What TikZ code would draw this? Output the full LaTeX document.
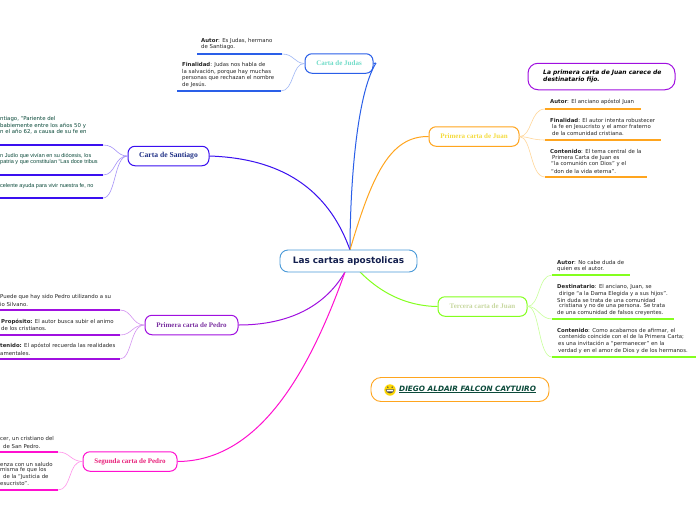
\documentclass[tikz,border=0pt]{standalone}
\usepackage{fontspec}
\setmainfont{DejaVu Sans}
\newfontfamily\srf{Liberation Serif}
\newfontfamily\arl{Liberation Sans}
\newcounter{tl}
\newcommand\tline[3]{\stepcounter{tl}\node[txt] (t\arabic{tl}) at (#1,#2) {#3};}
\definecolor{cjudas}{HTML}{2A5FE8}
\definecolor{csant}{HTML}{3A10F0}
\definecolor{cjuan}{HTML}{FFA51E}
\definecolor{cter}{HTML}{84FF1E}
\definecolor{cpe}{HTML}{A010E0}
\definecolor{cse}{HTML}{FF10D0}
\definecolor{gtext}{HTML}{0B4A3A}
\definecolor{tjudas}{HTML}{70DCC8}
\definecolor{tsant}{HTML}{1E2F85}
\definecolor{tjuan}{HTML}{F5DC40}
\definecolor{tter}{HTML}{C8D8A0}
\definecolor{tpe}{HTML}{7A30A0}
\definecolor{tse}{HTML}{E8207A}
\definecolor{ccen}{HTML}{4A9AD8}
\definecolor{tcen}{HTML}{14204F}
\tikzset{
 txt/.style={anchor=west,inner sep=0pt,font=\fontsize{5.4}{6}\selectfont,text=black!85},
 topic/.style={draw=#1,line width=1pt,rounded corners=7pt,fill=white,inner sep=0pt,minimum height=19.5pt,font=\srf\bfseries\fontsize{7}{8}\selectfont},
 main/.style={draw=#1,line width=1pt},
 sub/.style={draw=#1!45,line width=.6pt},
 under/.style={draw=#1,line width=1.2pt},
}
\begin{document}
\begin{tikzpicture}[x=1pt,y=-1pt]
\useasboundingbox (0,0) rectangle (696,520);
\clip (0,0) rectangle (696,520);
\fill[white] (0,0) rectangle (696,520);
% coordinates
\coordinate (cg) at (360,272);
\coordinate (cp) at (345,272);
\coordinate (cn) at (350,250);
\coordinate (jend) at (376,63);
\coordinate (ja1) at (282,54); \coordinate (ja1l) at (197,54);
\coordinate (ja2) at (281,91); \coordinate (ja2l) at (177,91);
\coordinate (sa1) at (103,145); \coordinate (sa1l) at (0,145);
\coordinate (sa2) at (103,175); \coordinate (sa2l) at (0,175);
\coordinate (sa3) at (103,198); \coordinate (sa3l) at (0,198);
\coordinate (p1) at (120,310); \coordinate (p1l) at (0,310);
\coordinate (p2) at (120,335); \coordinate (p2l) at (0,335);
\coordinate (p3) at (120,359); \coordinate (p3l) at (0,359);
\coordinate (q1) at (58,452); \coordinate (q1l) at (0,452);
\coordinate (q2) at (58,490); \coordinate (q2l) at (0,490);
\coordinate (u1) at (545,109); \coordinate (u1r) at (641,109);
\coordinate (u2) at (545,140); \coordinate (u2r) at (661,140);
\coordinate (u3) at (545,177); \coordinate (u3r) at (647,177);
\coordinate (v1) at (552,275); \coordinate (v1r) at (630,275);
\coordinate (v2) at (552,319); \coordinate (v2r) at (674,319);
\coordinate (v3) at (552,357); \coordinate (v3r) at (696,357);
% topic nodes
\node[topic=cjudas,minimum width=68pt,text=tjudas] (judas) at (339,63.5) {Carta de Judas};
\node[topic=csant,minimum width=81pt,text=tsant,font=\srf\bfseries\fontsize{7.6}{9}\selectfont] (sant) at (168.5,156) {Carta de Santiago};
\node[topic=cjuan,minimum width=90pt,text=tjuan] (juan) at (474,136.5) {Primera carta de Juan};
\node[topic=cter,minimum width=89pt,text=tter] (ter) at (482.5,306.5) {Tercera carta de Juan};
\node[topic=cpe,minimum width=93pt,text=tpe] (pe) at (191.5,325) {Primera carta de Pedro};
\node[topic=cse,minimum width=94pt,text=tse] (se) at (130,461.5) {Segunda carta de Pedro};
% main branches
\draw[main=cjudas] (cn) .. controls (350,190) and (356,95) .. (jend);
\draw[main=cjudas] (jend) -- (judas.east);
\draw[main=csant] (sant.east) .. controls (270,158) and (325,180) .. (cn);
\draw[main=cjuan] (cn) .. controls (372,175) and (390,136) .. (juan.west);
\draw[main=cter] (cg) .. controls (380,292) and (405,306) .. (ter.west);
\draw[main=cpe] (cp) .. controls (320,315) and (275,325) .. (pe.east);
\draw[main=cse] (cp) .. controls (310,370) and (260,461) .. (se.east);
% central node
\node[draw=ccen,fill=white,line width=.9pt,rounded corners=8pt,minimum width=137pt,minimum height=22pt,inner sep=0pt,text=tcen,font=\bfseries\fontsize{8.9}{10}\selectfont] (center) at (348.5,261) {Las cartas apostolicas};
% sub branches
\draw[sub=cjudas] (judas.west) .. controls (294,63) and (294,54) .. (ja1);
\draw[sub=cjudas] (judas.west) .. controls (292,63) and (294,91) .. (ja2);
\draw[sub=csant] (sant.west) .. controls (116,156) and (116,145) .. (sa1);
\draw[sub=csant] (sant.west) .. controls (114,156) and (116,175) .. (sa2);
\draw[sub=csant] (sant.west) .. controls (114,156) and (116,198) .. (sa3);
\draw[sub=cpe] (pe.west) .. controls (132,325) and (132,310) .. (p1);
\draw[sub=cpe] (pe.west) .. controls (132,325) and (132,335) .. (p2);
\draw[sub=cpe] (pe.west) .. controls (130,325) and (132,359) .. (p3);
\draw[sub=cse] (se.west) .. controls (70,461) and (70,452) .. (q1);
\draw[sub=cse] (se.west) .. controls (68,461) and (72,490) .. (q2);
\draw[sub=cjuan] (juan.east) .. controls (532,137) and (530,109) .. (u1);
\draw[sub=cjuan] (juan.east) .. controls (530,137) and (532,140) .. (u2);
\draw[sub=cjuan] (juan.east) .. controls (532,137) and (530,177) .. (u3);
\draw[sub=cter] (ter.east) .. controls (540,306) and (538,275) .. (v1);
\draw[sub=cter] (ter.east) .. controls (538,306) and (540,319) .. (v2);
\draw[sub=cter] (ter.east) .. controls (540,306) and (538,357) .. (v3);
% underlines
\draw[under=cjudas] (ja1l) -- (ja1);
\draw[under=cjudas] (ja2l) -- (ja2);
\draw[under=csant] (sa1l) -- (sa1);
\draw[under=csant] (sa2l) -- (sa2);
\draw[under=csant] (sa3l) -- (sa3);
\draw[under=cpe] (p1l) -- (p1);
\draw[under=cpe] (p2l) -- (p2);
\draw[under=cpe] (p3l) -- (p3);
\draw[under=cse] (q1l) -- (q1);
\draw[under=cse] (q2l) -- (q2);
\draw[under=cjuan] (u1) -- (u1r);
\draw[under=cjuan] (u2) -- (u2r);
\draw[under=cjuan] (u3) -- (u3r);
\draw[under=cter] (v1) -- (v1r);
\draw[under=cter] (v2) -- (v2r);
\draw[under=cter] (v3) -- (v3r);
% Judas text
\tline{201}{41}{\textbf{Autor}: Es Judas, hermano}
\tline{201}{47.5}{de Santiago.}
\tline{182}{65}{\textbf{Finalidad}: Judas nos habla de}
\tline{182}{72}{la salvación, porque hay muchas}
\tline{182}{78}{personas que rechazan el nombre}
\tline{182}{85}{de Jesús.}
% Santiago text
\begin{scope}[txt/.append style={text=gtext}]
\tline{0}{119}{ntiago, “Pariente del}
\tline{0}{126}{babiemente entre los años 50 y}
\tline{0}{132}{n el año 62, a causa de su fe en}
\end{scope}
\begin{scope}[txt/.append style={text=gtext,font=\arl\fontsize{5.5}{6}\selectfont}]
\tline{0}{156}{n Judío que vivían en su diócesis, los}
\tline{0}{162}{patria y que constituían “Las doce tribus}
\tline{0}{186}{celente ayuda para vivir nuestra fe, no}
\end{scope}
% Pedro 1
\tline{0}{297}{Puede que hay sido Pedro utilizando a su}
\tline{0}{304}{io Silvano.}
\tline{1}{322}{\textbf{Propósito:} El autor busca subir el animo}
\tline{1}{328}{de los cristianos.}
\tline{0}{346}{\textbf{tenido:} El apóstol recuerda las realidades}
\tline{0}{353}{amentales.}
% Pedro 2
\tline{0}{439}{cer, un cristiano del}
\tline{3}{446}{de San Pedro.}
\tline{0}{464}{enza con un saludo}
\tline{0}{470}{misma fe que los}
\tline{3}{477}{de la “Justicia de}
\tline{0}{483}{esucristo”.}
% Juan 1
\tline{550}{102}{\textbf{Autor}: El anciano apóstol Juan}
\tline{550}{120}{\textbf{Finalidad}: El autor intenta robustecer}
\tline{552}{127}{la fe en Jesucristo y el amor fraterno}
\tline{552}{133}{de la comunidad cristiana.}
\tline{550}{151}{\textbf{Contenido}: El tema central de la}
\tline{552}{158}{Primera Carta de Juan es}
\tline{551}{164}{“la comunión con Dios” y el}
\tline{551}{171}{“don de la vida eterna”.}
% Juan 3
\tline{557}{262}{\textbf{Autor}: No cabe duda de}
\tline{557}{269}{quien es el autor.}
\tline{557}{287}{\textbf{Destinatario}: El anciano, Juan, se}
\tline{559}{294}{dirige “a la Dama Elegida y a sus hijos”.}
\tline{557}{300}{Sin duda se trata de una comunidad}
\tline{559}{306}{cristiana y no de una persona. Se trata}
\tline{557}{313}{de una comunidad de falsos creyentes.}
\tline{557}{331}{\textbf{Contenido}: Como acabamos de afirmar, el}
\tline{559}{337}{contenido coincide con el de la Primera Carta;}
\tline{558}{344}{es una invitación a “permanecer”  en la}
\tline{558}{351}{verdad y en el amor de Dios y de los hermanos.}
% note box
\node[draw=cpe,line width=1pt,rounded corners=10pt,minimum width=147pt,minimum height=26.5pt,inner sep=0pt] (note) at (601.5,76.5) {};
\node[txt,text=black,font=\bfseries\itshape\fontsize{6}{7}\selectfont] (n1) at (543,72.5) {La primera carta de Juan carece de};
\node[txt,text=black,font=\bfseries\itshape\fontsize{6}{7}\selectfont] (n2) at (543,79.5) {destinatario fijo.};
% author box
\node[draw=cjuan,line width=.9pt,rounded corners=10pt,minimum width=178pt,minimum height=24pt,inner sep=0pt] (diego) at (460,389.5) {};
\node[txt,text=gtext,font=\bfseries\itshape\fontsize{7.3}{8}\selectfont] (dt) at (399,389.5) {\underline{DIEGO ALDAIR FALCON CAYTUIRO}};
% emoji
\fill[yellow!75!orange] (390,390) circle (5.7);
\fill[black!70] (387.8,387.2) circle (.8) (392.2,387.2) circle (.8);
\fill[black!70] (385.6,389.4) -- (394.4,389.4) arc (0:-180:4.4 and -4) -- cycle;
\fill[white] (386.6,389.9) -- (393.4,389.9) -- (393,391.3) -- (387,391.3) -- cycle;
\end{tikzpicture}
\end{document}
